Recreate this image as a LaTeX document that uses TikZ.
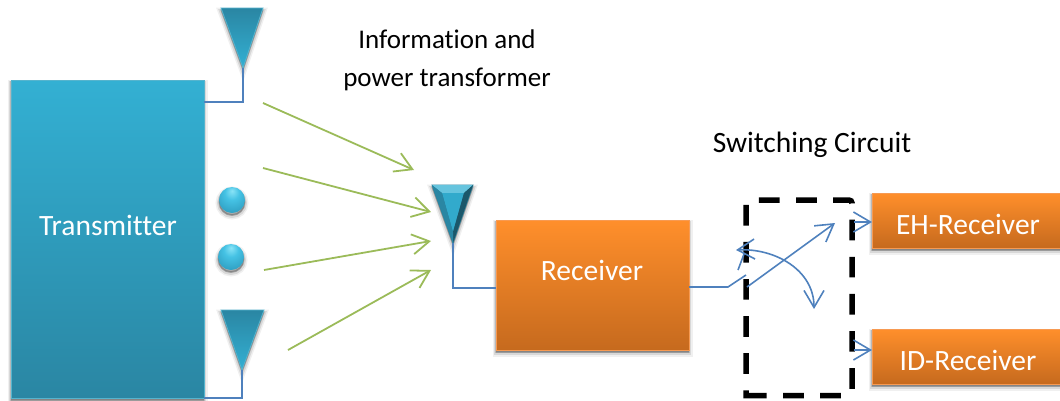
\documentclass[tikz,border=0pt]{standalone}
\usepackage{fontspec}
\setmainfont[Ligatures=NoCommon]{Carlito}
\usetikzlibrary{arrows.meta,shadows,positioning}
\definecolor{tealtop}{HTML}{33B0D3}
\definecolor{tealbot}{HTML}{2A86A3}
\definecolor{tealedge}{HTML}{55B4CE}
\definecolor{orangetop}{HTML}{FF8F2B}
\definecolor{orangebot}{HTML}{C66A1E}
\definecolor{orangeedge}{HTML}{F79A52}
\definecolor{wire}{HTML}{4F81BD}
\definecolor{beam}{HTML}{9BBB59}
\definecolor{sphA}{HTML}{8AE4F7}
\definecolor{sphB}{HTML}{45C2E4}
\definecolor{sphC}{HTML}{2E9DC0}
\definecolor{sphD}{HTML}{1F7390}
\definecolor{sphE}{HTML}{103F52}
\pgfdeclareradialshading{sphereshade}{\pgfpoint{0bp}{18bp}}{
 color(0bp)=(sphA); color(14bp)=(sphB); color(36bp)=(sphC); color(54bp)=(sphD); color(68bp)=(sphE)}
\tikzset{
 softshade/.style={
  general shadow={fill=black,draw=black,line width=7pt,draw opacity=.06,fill opacity=.06,shadow yshift=-3pt},
  general shadow={fill=black,draw=black,line width=4pt,draw opacity=.10,fill opacity=.10,shadow yshift=-3pt},
  general shadow={fill=black,draw=black,line width=1.5pt,draw opacity=.15,fill opacity=.15,shadow yshift=-2pt}},
 boxbase/.style={rectangle,anchor=north west,inner sep=0pt,outer sep=0pt,line width=1pt,softshade},
 tealbox/.style={boxbase,draw=tealedge,top color=tealtop,bottom color=tealbot},
 orangebox/.style={boxbase,draw=orangeedge,top color=orangetop,bottom color=orangebot},
 boxlabel/.style={text=white,inner sep=0pt,font=\fontsize{29.5}{34}\selectfont},
 antenna/.style={top color=tealbot,bottom color=tealtop,draw=tealedge,line width=.8pt,softshade},
 sphere/.style={circle,minimum size=26pt,inner sep=0pt,shading=sphereshade,softshade},
 infolabel/.style={align=center,inner sep=0pt,text=black,font=\fontsize{27}{38}\selectfont},
 swlabel/.style={inner sep=0pt,text=black,font=\fontsize{29.5}{34}\selectfont},
 wireline/.style={wire,line width=1.6pt},
 beamline/.style={beam,line width=1.8pt,-{Straight Barb[length=17pt,width=20pt,line width=1.8pt]}},
 switchline/.style={wire,line width=1.6pt,-{Straight Barb[length=17pt,width=20pt,line width=1.6pt]}},
}
\begin{document}
\begin{tikzpicture}[x=1pt,y=-1pt]
\useasboundingbox (0,0) rectangle (1060,400);
\clip (0,0) rectangle (1060,400);
\node[tealbox,minimum width=193pt,minimum height=318pt] (tx) at (11,80) {};
\node[boxlabel] (txlabel) at (108,225) {Transmitter};
\coordinate (a1) at (243,68);
\coordinate (a2) at (242,370);
\coordinate (a3) at (453,243);
\path[antenna] (221,8) -- (263,8) -- (a1) -- cycle;
\path[antenna] (221,310) -- (264,310) -- (a2) -- cycle;
\path[antenna,draw=tealbot,top color=tealbot,bottom color=tealbot] (432,185) -- (473,185) -- (a3) -- cycle;
\fill[tealtop!75!white] (432,185) -- (473,185) -- (464,193) -- (442,193) -- cycle;
\fill[tealtop!85!tealbot] (442,193) -- (464,193) -- (453,232) -- cycle;
\fill[tealbot!65!black] (473,185) -- (464,193) -- (453,232) -- (a3) -- cycle;
\fill[tealbot] (432,185) -- (442,193) -- (453,232) -- (a3) -- cycle;
\node[sphere] (s1) at (232,200) {};
\node[sphere] (s2) at (231,257) {};
\node[orangebox,minimum width=193pt,minimum height=130pt] (rx) at (496,220) {};
\node[boxlabel] (rxlabel) at (592,270) {Receiver};
\node[orangebox,minimum width=200pt,minimum height=55pt] (eh) at (872,193) {};
\node[boxlabel] (ehlabel) at (968,224) {EH-Receiver};
\node[orangebox,minimum width=200pt,minimum height=55pt] (id) at (872,329) {};
\node[boxlabel] (idlabel) at (968,360) {ID-Receiver};
\node[infolabel] (info) at (447,60) {Information and\\power transformer};
\node[swlabel] (sw) at (812,144.5) {Switching Circuit};
% antenna feeds
\draw[wireline] (a1) -- (a1 |- 0,102) -- (tx.east |- 0,102);
\draw[wireline] (a2) -- (a2 |- tx.south) -- (tx.south east);
\draw[wireline] (a3) -- (a3 |- 0,288) -- (rx.west |- 0,288);
% beams
\coordinate (b1) at (263,103); \coordinate (b1e) at (414,170);
\coordinate (b2) at (263,168); \coordinate (b2e) at (431,212);
\coordinate (b3) at (264,270); \coordinate (b3e) at (431,241);
\coordinate (b4) at (288,350); \coordinate (b4e) at (431,270);
\draw[beamline] (b1) -- (b1e);
\draw[beamline] (b2) -- (b2e);
\draw[beamline] (b3) -- (b3e);
\draw[beamline] (b4) -- (b4e);
% switching box
\draw[black,line width=5.5pt,dash pattern=on 20.7pt off 16.4pt,rounded corners=3pt]
 (746,395.5) -- (852,395.5) -- (852,200) -- (746,200) -- (746,398.25);
% switch
\coordinate (j) at (728,287);
\draw[wireline] (rx.east |- j) -- (j) -- (746,275);
\draw[wireline] (738,270) -- (744,254);
\draw[wire,line width=1.6pt,{Straight Barb[length=17pt,width=20pt,line width=1.6pt]}-{Straight Barb[length=17pt,width=20pt,line width=1.6pt]}]
 (736,250) .. controls (775,248) and (814,270) .. (814,309);
\draw[switchline] (747,287) -- (835,223);
\draw[switchline] (854,222) -- (eh.west |- 0,222);
\draw[switchline] (854,350) -- (id.west |- 0,350);
\end{tikzpicture}
\end{document}
